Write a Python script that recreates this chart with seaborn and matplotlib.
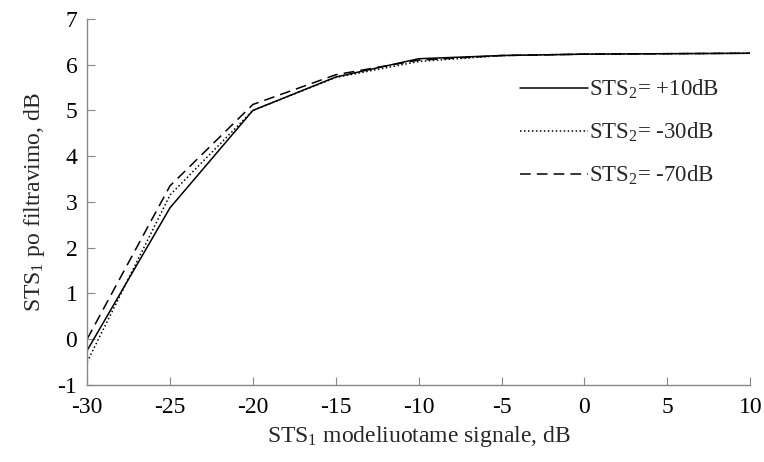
import matplotlib
matplotlib.use("Agg")
import matplotlib.pyplot as plt
import seaborn as sns
import pandas as pd

x_vals = [-30, -25, -20, -15, -10, -5, 0, 5, 10]
sts2_p10 = [-0.25, 2.87, 5.0, 5.73, 6.13, 6.2, 6.23, 6.24, 6.25]
sts2_m30 = [-0.5, 3.15, 5.0, 5.72, 6.07, 6.2, 6.23, 6.24, 6.25]
sts2_m70 = [0.0, 3.35, 5.13, 5.78, 6.1, 6.2, 6.23, 6.24, 6.25]
labels = ["STS$_2$= +10dB", "STS$_2$= -30dB", "STS$_2$= -70dB"]

rows = []
for lab, ys in zip(labels, [sts2_p10, sts2_m30, sts2_m70]):
    for xv, yv in zip(x_vals, ys):
        rows.append({"x": xv, "y": yv, "series": lab})
df = pd.DataFrame(rows)

sns.set_style("ticks")
plt.rcParams["font.family"] = ["Liberation Serif", "DejaVu Serif"]
plt.rcParams["mathtext.fontset"] = "custom"
plt.rcParams["mathtext.rm"] = "Liberation Serif"
plt.rcParams["mathtext.it"] = "Liberation Serif:italic"
plt.rcParams["mathtext.default"] = "regular"
plt.rcParams["axes.unicode_minus"] = False

fig = plt.figure(figsize=(7.64, 4.62), dpi=100)
ax = fig.add_axes([0.114, 0.167, 0.868, 0.792])

dashes = {labels[0]: "", labels[1]: (1, 1.6), labels[2]: (7, 4)}
sns.lineplot(data=df, x="x", y="y", style="series", dashes=dashes,
             color="black", linewidth=1.1, ax=ax, legend=True)

ax.set_xlim(-30, 10)
ax.set_ylim(-1, 7)
ax.set_xticks(range(-30, 11, 5))
ax.set_yticks(range(-1, 8))
ax.tick_params(direction="in", length=6, labelsize=17, labelcolor="black",
               width=0.8, color="#888888")
ax.tick_params(axis="x", pad=9)
ax.tick_params(axis="y", pad=7)
for s in ["top", "right"]:
    ax.spines[s].set_visible(False)
for s in ["left", "bottom"]:
    ax.spines[s].set_color("#888888")
    ax.spines[s].set_linewidth(1.0)

ax.set_xlabel("STS$_1$ modeliuotame signale, dB", fontsize=17, labelpad=4)
ax.set_ylabel("STS$_1$ po filtravimo, dB", fontsize=17, labelpad=8)

leg = ax.legend(loc="upper right", bbox_to_anchor=(0.985, 0.895), frameon=False,
                fontsize=16.5, handlelength=3.0, handletextpad=0.05,
                labelspacing=0.85, title=None)

fig.savefig("out.png", dpi=100)
